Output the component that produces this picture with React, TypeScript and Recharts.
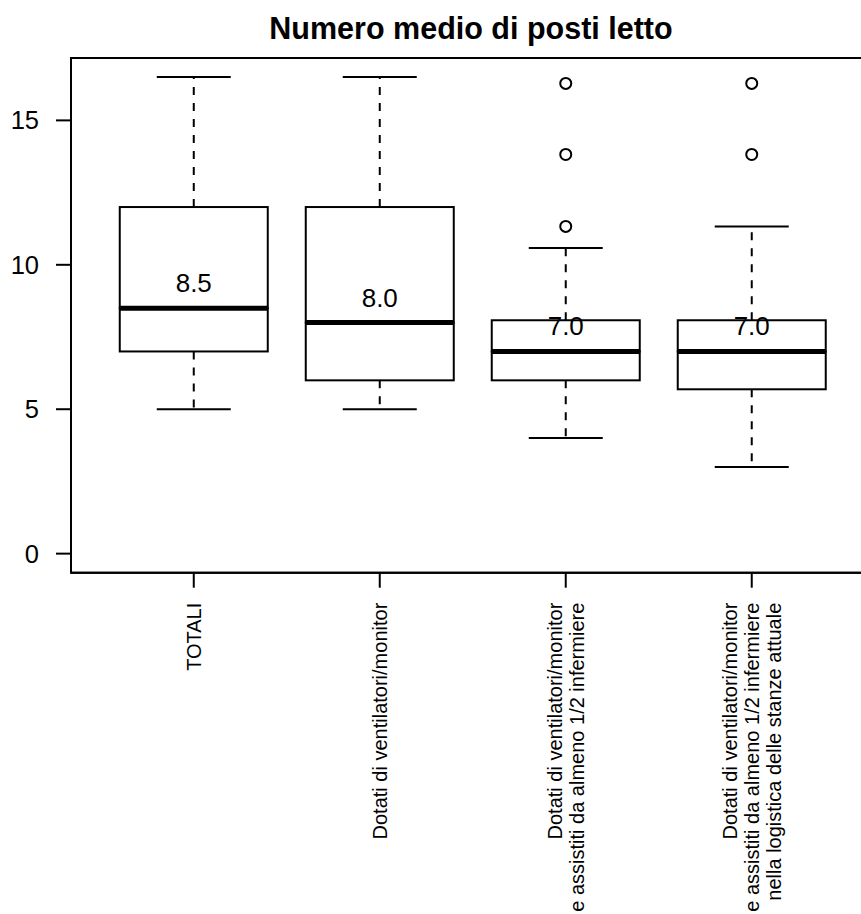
import React from 'react';
import { ComposedChart, Bar, Scatter, XAxis, YAxis, ReferenceArea, LabelList } from 'recharts';

const FONT = '"Liberation Sans", Arial, Helvetica, sans-serif';

// Categories (line breaks as in the original axis labels)
const categories = [
  'TOTALI',
  'Dotati di ventilatori/monitor',
  'Dotati di ventilatori/monitor\ne assistiti da almeno 1/2 infermiere',
  'Dotati di ventilatori/monitor\ne assistiti da almeno 1/2 infermiere\nnella logistica delle stanze attuale',
];
const positions = [1, 2, 3, 4];

// Box-plot statistics
const whiskerLow = [5, 5, 4, 3];
const quartile1 = [7, 6, 6, 5.69];
const medians = [8.5, 8.0, 7.0, 7.0];
const quartile3 = [12, 12, 8.08, 8.08];
const whiskerHigh = [16.5, 16.5, 10.58, 11.33];
const medianLabels = ['8.5', '8.0', '7.0', '7.0'];

// Outliers
const outlierGroup = [3, 3, 3, 4, 4];
const outlierValue = [11.33, 13.82, 16.28, 13.82, 16.28];

const yTicks = [0, 5, 10, 15];
const yDomain = [-0.66, 17.16];
const xDomain = [0.34, 4.66];

const boxData = positions.map((p, i) => ({
  x: p,
  base: whiskerLow[i],
  lowW: quartile1[i] - whiskerLow[i],
  lowBox: medians[i] - quartile1[i],
  highBox: quartile3[i] - medians[i],
  highW: whiskerHigh[i] - quartile3[i],
  label: medianLabels[i],
}));

const outliers = outlierGroup.map((g, i) => ({ x: g, y: outlierValue[i] }));

const LowWhisker = (p: any) => {
  const { x, y, width, height } = p;
  const cx = x + width / 2;
  return (
    <g>
      <line x1={cx} x2={cx} y1={y} y2={y + height} stroke="#000" strokeWidth={2} strokeDasharray="8 8" />
      <line x1={cx - width / 4} x2={cx + width / 4} y1={y + height} y2={y + height} stroke="#000" strokeWidth={2} />
    </g>
  );
};

const HighWhisker = (p: any) => {
  const { x, y, width, height } = p;
  const cx = x + width / 2;
  return (
    <g>
      <line x1={cx} x2={cx} y1={y + height} y2={y} stroke="#000" strokeWidth={2} strokeDasharray="8 8" />
      <line x1={cx - width / 4} x2={cx + width / 4} y1={y} y2={y} stroke="#000" strokeWidth={2} />
    </g>
  );
};

const LowBox = (p: any) => {
  const { x, y, width, height } = p;
  return <rect x={x} y={y} width={width} height={height} fill="#fff" stroke="#000" strokeWidth={2} />;
};

const HighBox = (p: any) => {
  const { x, y, width, height } = p;
  return (
    <g>
      <rect x={x} y={y} width={width} height={height} fill="#fff" stroke="#000" strokeWidth={2} />
      <line x1={x} x2={x + width} y1={y + height} y2={y + height} stroke="#000" strokeWidth={5} />
    </g>
  );
};

const Invisible = () => <g />;

const MedianLabel = (p: any) => {
  const { x, y, width, height, value } = p;
  return (
    <text x={x + width / 2} y={y + height - 16} textAnchor="middle" fontSize={26} fontFamily={FONT} fill="#000">
      {value}
    </text>
  );
};

const Outlier = (p: any) => (
  <circle cx={p.cx} cy={p.cy} r={5.5} fill="none" stroke="#000" strokeWidth={2} />
);

const XTick = (props: any) => {
  const { x, y, payload } = props;
  const idx = positions.indexOf(payload.value);
  if (idx < 0) return <g />;
  const lines = categories[idx].split('\n');
  const n = lines.length;
  return (
    <g transform={`translate(${x},${y})`}>
      <text transform="rotate(-90)" textAnchor="end" fontSize={20} fontFamily={FONT} fill="#000">
        {lines.map((l, i) => (
          <tspan key={i} x={-13} y={7 + (i - (n - 1) / 2) * 22}>
            {l}
          </tspan>
        ))}
      </text>
    </g>
  );
};

export default function App() {
  return (
    <div style={{ position: 'absolute', left: 0, top: 0, width: 861, height: 914, overflow: 'hidden', background: '#fff' }}>
      <div
        style={{
          position: 'absolute',
          left: 171,
          width: 600,
          top: 13,
          textAlign: 'center',
          fontFamily: FONT,
          fontWeight: 'bold',
          fontSize: 30.5,
          lineHeight: '30.5px',
          color: '#000',
        }}
      >
        Numero medio di posti letto
      </div>
      <ComposedChart
        width={900}
        height={960}
        data={boxData}
        margin={{ top: 58, left: 11, right: 25.5, bottom: 47.3 }}
      >
        <XAxis
          dataKey="x"
          type="number"
          domain={xDomain}
          allowDataOverflow
          ticks={positions}
          interval={0}
          height={340}
          tickSize={15}
          tickMargin={2}
          axisLine={{ stroke: '#000', strokeWidth: 2 }}
          tickLine={{ stroke: '#000', strokeWidth: 2 }}
          tick={<XTick />}
        />
        <YAxis
          type="number"
          domain={yDomain}
          allowDataOverflow
          ticks={yTicks}
          interval={0}
          width={60}
          tickSize={15}
          tickMargin={17}
          axisLine={{ stroke: '#000', strokeWidth: 2 }}
          tickLine={{ stroke: '#000', strokeWidth: 2 }}
          tick={{ fontSize: 25.5, fill: '#000', fontFamily: FONT }}
        />
        <ReferenceArea
          x1={xDomain[0]}
          x2={xDomain[1]}
          y1={yDomain[0]}
          y2={yDomain[1]}
          fill="none"
          fillOpacity={0}
          stroke="#000"
          strokeWidth={2}
          ifOverflow="visible"
        />
        <Bar dataKey="base" stackId="box" barSize={148} shape={Invisible} isAnimationActive={false} />
        <Bar dataKey="lowW" stackId="box" barSize={148} shape={LowWhisker} isAnimationActive={false} />
        <Bar dataKey="lowBox" stackId="box" barSize={148} shape={LowBox} isAnimationActive={false} />
        <Bar dataKey="highBox" stackId="box" barSize={148} shape={HighBox} isAnimationActive={false}>
          <LabelList dataKey="label" content={MedianLabel} />
        </Bar>
        <Bar dataKey="highW" stackId="box" barSize={148} shape={HighWhisker} isAnimationActive={false} />
        <Scatter data={outliers} dataKey="y" shape={Outlier} isAnimationActive={false} />
      </ComposedChart>
    </div>
  );
}
